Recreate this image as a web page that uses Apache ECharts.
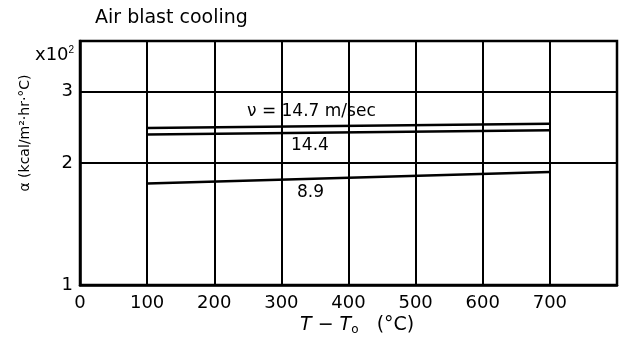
<!DOCTYPE html>
<html><head><meta charset="utf-8">
<script src="https://cdn.jsdelivr.net/npm/echarts@6/dist/echarts.min.js"></script>
<style>html,body{margin:0;padding:0;background:#fff}#c{width:625px;height:345px}</style>
</head><body><div id="c"></div>
<script>
var xTicks = [0, 100, 200, 300, 400, 500, 600, 700];
var yTicks = [1, 2, 3];
var xRange = [100, 700];
var v147 = [2.44, 2.50];
var v144 = [2.35, 2.41];
var v89 = [1.78, 1.90];
var seriesNames = ['\u03bd = 14.7 m/sec', '14.4', '8.9'];

var F = 'DejaVu Sans';
function pts(vals){ return vals.map(function(v,i){ return [xRange[i], v]; }); }
var chart = echarts.init(document.getElementById('c'));
var lineStyle = {color:'#000', width:2.5};
chart.setOption({
  animation:false,
  backgroundColor:'#fff',
  grid:{left:80, top:41, right:8, bottom:60, show:true, borderColor:'#000', borderWidth:2.5, backgroundColor:'transparent'},
  xAxis:{type:'value', min:0, max:800, interval:100,
    axisLine:{lineStyle:{color:'#000', width:2.5}},
    axisTick:{show:false},
    axisLabel:{color:'#000', fontFamily:F, fontSize:18, margin:9,
      formatter:function(v){ return xTicks.indexOf(v)>=0 ? String(v) : ''; }},
    splitLine:{show:true, lineStyle:{color:'#000', width:2}}
  },
  yAxis:{type:'log', logBase:10, min:1, max:4,
    axisLine:{show:true, lineStyle:{color:'#000', width:2.5}},
    axisTick:{show:false, customValues:yTicks},
    axisLabel:{color:'#000', fontFamily:F, fontSize:18, margin:7, customValues:yTicks,
      formatter:function(v){ return String(Math.round(v)); }},
    splitLine:{show:true, lineStyle:{color:'#000', width:2}},
    minorSplitLine:{show:false}
  },
  series:[
    {type:'line', name:seriesNames[0], data:pts(v147), symbol:'none', lineStyle:lineStyle},
    {type:'line', name:seriesNames[1], data:pts(v144), symbol:'none', lineStyle:lineStyle},
    {type:'line', name:seriesNames[2], data:pts(v89), symbol:'none', lineStyle:lineStyle}
  ],
  graphic:[
    {type:'text', left:95, top:9, style:{text:'Air blast cooling', fill:'#000', font:'19px "DejaVu Sans"'}},
    {type:'text', left:35, top:45, style:{text:'x10{s|2}', fill:'#000', font:'18px "DejaVu Sans"', rich:{s:{fontSize:10, verticalAlign:'top', padding:[0,0,10,0]}}}},
    {type:'text', x:25, y:133, rotation:Math.PI/2, style:{text:'\u03b1 (kcal/m\u00b2\u00b7hr\u00b7\u00b0C)', fill:'#000', font:'14px "DejaVu Sans"', align:'center', verticalAlign:'middle'}},
    {type:'text', left:247, top:103, style:{text:seriesNames[0], fill:'#000', font:'17px "DejaVu Sans"'}},
    {type:'text', left:291, top:137, style:{text:seriesNames[1], fill:'#000', font:'17px "DejaVu Sans"'}},
    {type:'text', left:297, top:184, style:{text:seriesNames[2], fill:'#000', font:'17px "DejaVu Sans"'}},
    {type:'text', left:300, top:316, style:{text:'{i|T} \u2212 {i|T}{s|o}   (\u00b0C)', fill:'#000', font:'19px "DejaVu Sans"',
      rich:{i:{fontStyle:'italic', fontSize:19, fontFamily:F}, s:{fontSize:12, fontFamily:F, padding:[8,0,0,0]}}}}
  ]
});
</script></body></html>
